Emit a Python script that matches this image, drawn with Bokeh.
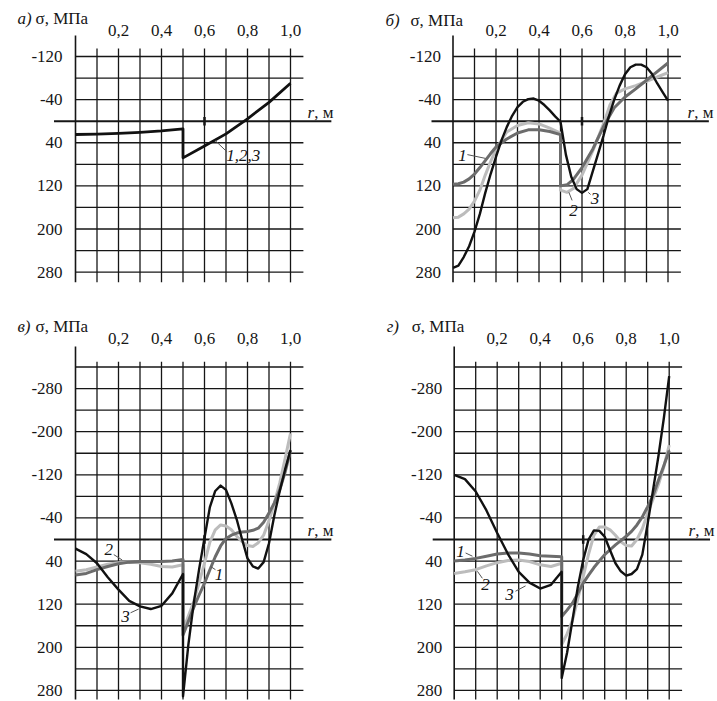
from bokeh.plotting import figure
from bokeh.models import Range1d
from bokeh.layouts import gridplot
from bokeh.embed import file_html
from bokeh.resources import INLINE
from bokeh.core.properties import value

# ---------------- data ----------------
grid_r = [0.1, 0.2, 0.3, 0.4, 0.5, 0.6, 0.7, 0.8, 0.9, 1.0]
r_ticks = [0.2, 0.4, 0.6, 0.8, 1.0]
r_tick_labels = ["0,2", "0,4", "0,6", "0,8", "1,0"]

top_y_ticks = [-120, -40, 40, 120, 200, 280]
top_grid_s = [-120, -80, -40, 40, 80, 120, 160, 200, 240, 280]
bot_y_ticks = [-280, -200, -120, -40, 40, 120, 200, 280]
bot_grid_s = [-320, -280, -240, -200, -160, -120, -80, -40, 40, 80, 120, 160, 200, 240, 280]

# panel а : curves 1,2,3 coincide
a_r = [0, 0.1, 0.2, 0.3, 0.4, 0.5, 0.5, 0.6, 0.7, 0.8, 0.9, 1.0]
a_s = [24.7, 24.0, 22.6, 20.6, 18.0, 14.2, 68, 46, 23.5, -4.5, -35, -70.5]

# panel б
b_r3 = [0, .025, .05, .075, .1, .125, .15, .175, .2, .225, .25, .275, .3, .325, .35, .375, .4,
        .425, .45, .475, .5, .525, .55, .575, .6, .625, .65, .675, .7, .725, .75, .775, .8,
        .825, .85, .875, .9, .925, .95, .975, 1.0]
b_s3 = [272, 268, 252, 232, 205, 172, 133, 98, 66, 36, 11, -10, -26, -36, -41, -42, -38,
        -30, -20, -9, 1, 62, 103, 126, 133, 126, 93, 60, 27, -9, -40, -66, -87,
        -100, -105, -105, -100, -88, -70, -54, -38]
b_r1 = [0, .025, .05, .075, .1, .125, .15, .175, .2, .25, .3, .35, .4, .45, .5,
        .5, .53, .56, .6, .65, .7, .75, .8, .85, .9, .95, 1.0]
b_s1 = [117, 116, 113, 107, 98, 86, 73, 60, 48, 33, 22, 16, 16, 19, 25,
        120, 118, 108, 86, 52, 10, -25, -45, -60, -76, -92, -108]
b_r2 = [0, .025, .05, .075, .1, .125, .15, .175, .2, .25, .3, .35, .4, .45, .5,
        .5, .53, .56, .6, .65, .7, .73, .76, .8, .85, .9, .95, 1.0]
b_s2 = [179, 178, 172, 163, 148, 128, 100, 75, 52, 20, 8, 3, 5, 13, 22,
        128, 132, 125, 100, 55, 5, -30, -52, -60, -66, -74, -82, -90]

# panels в and г share the same radii
cd_r = [0, .05, .1, .15, .2, .25, .3, .35, .4, .45, .5,
        .5, .525, .55, .575, .6, .625, .65, .675, .7, .725, .75, .775, .8, .825, .85,
        .875, .9, .925, .95, .975, 1.0]
# panel в
c_s1 = [66, 63, 56, 50, 45, 42, 41, 41, 41, 40, 37,
        177, 152, 126, 103, 81, 56, 32, 12, -2, -8, -12, -14, -15, -17, -21,
        -32, -49, -68, -92, -125, -165]
c_s2 = [59, 56, 51, 46, 43, 42, 43, 46, 50, 51, 47,
        168, 142, 115, 80, 44, 5, -18, -27, -25, -18, -6, 4, 11, 13, 6,
        -8, -35, -68, -105, -150, -197]
c_s3 = [17, 27, 44, 70, 93, 114, 124, 129, 123, 100, 64,
        291, 195, 118, 55, -3, -60, -90, -100, -92, -67, -37, 0, 35, 50, 54,
        42, 7, -45, -90, -130, -166]
# panel г
d_s1 = [40, 38, 35, 31, 27, 25, 25, 27, 30, 31, 32,
        143, 131, 118, 100, 81, 66, 52, 40, 28, 19, 10, 2, -6, -15, -27,
        -42, -61, -82, -110, -137, -165]
d_s2 = [63, 60, 56, 49, 43, 39, 38, 41, 47, 50, 44,
        195, 175, 150, 110, 69, 27, -8, -23, -23, -18, -8, 4, 11, 12, 0,
        -20, -49, -75, -102, -135, -175]
d_s3 = [-120, -112, -89, -54, -12, 27, 60, 80, 91, 84, 60,
        257, 210, 150, 88, 38, 0, -17, -16, -5, 20, 44, 59, 67, 64, 55,
        28, -30, -92, -155, -225, -303]

# ---------------- style ----------------
SERIF = value("'Liberation Serif', 'Times New Roman', serif")
INK = "#161616"
C1, C2, C3 = "#6c6c6c", "#bcbcbc", "#111111"
SX = 215.0   # px per metre
SY = 0.539   # px per MPa
FS = "17px"


def panel(width, height, x0_px, s0_px, grid_s, y_ticks, v_top, axis_top, s_bot,
          letter, title_s, tick_s, ylab_r, rlab_r, curves, labels):
    p = figure(width=width, height=height,
               x_range=Range1d(-x0_px / SX, (width - x0_px) / SX),
               y_range=Range1d((height - s0_px) / SY, -s0_px / SY),
               output_backend="svg", toolbar_location=None,
               x_axis_location=None, y_axis_location=None, min_border=0)
    p.grid.visible = False
    p.outline_line_color = None
    p.background_fill_color = "white"
    p.border_fill_color = "white"

    n = len(grid_s)
    p.segment(x0=[0] * n, y0=grid_s, x1=[1.06] * n, y1=grid_s,
              line_color=INK, line_width=1.3)
    m = len(grid_r)
    p.segment(x0=grid_r, y0=[v_top] * m, x1=grid_r, y1=[s_bot] * m,
              line_color=INK, line_width=1.3)
    p.segment(x0=[0], y0=[axis_top], x1=[0], y1=[s_bot], line_color=INK, line_width=1.6)
    p.segment(x0=[-0.1], y0=[0], x1=[1.19], y1=[0], line_color=INK, line_width=2)
    p.segment(x0=[0.6], y0=[-8], x1=[0.6], y1=[8], line_color=INK, line_width=2.5)

    for rr, ss, col, lw in curves:
        p.line(rr, ss, line_color=col, line_width=lw, line_join="round")

    # curve labels with leaders
    for txt, tx, ty, lx0, ly0, lx1, ly1 in labels:
        p.segment(x0=[lx0], y0=[ly0], x1=[lx1], y1=[ly1], line_color="#555555", line_width=1)
        p.text(x=[tx], y=[ty], text=[txt], text_font=SERIF, text_font_size=FS,
               text_font_style="italic", text_align="center", text_baseline="middle",
               text_color=INK)

    # titles
    p.text(x=[letter[1]], y=[title_s], text=[letter[0]], text_font=SERIF, text_font_size=FS,
           text_font_style="italic", text_align="left", text_baseline="middle", text_color=INK)
    p.text(x=[letter[2]], y=[title_s], text=["σ, МПа"], text_font=SERIF, text_font_size=FS,
           text_align="left", text_baseline="middle", text_color=INK)
    # top r tick labels
    p.text(x=r_ticks, y=[tick_s] * len(r_ticks), text=r_tick_labels, text_font=SERIF,
           text_font_size=FS, text_align="center", text_baseline="middle", text_color=INK)
    # y tick labels
    p.text(x=[ylab_r] * len(y_ticks), y=y_ticks, text=[str(v) for v in y_ticks],
           text_font=SERIF, text_font_size=FS, text_align="right", text_baseline="middle",
           text_color=INK)
    # r axis label
    p.text(x=[rlab_r], y=[-16], text=["r"], text_font=SERIF, text_font_size=FS,
           text_font_style="italic", text_align="left", text_baseline="middle", text_color=INK)
    p.text(x=[rlab_r + 0.031], y=[-16], text=[", м"], text_font=SERIF, text_font_size=FS,
           text_align="left", text_baseline="middle", text_color=INK)
    return p


pa = panel(357, 300, 75, 120.7, top_grid_s, top_y_ticks, -135, -159, 299,
           ("а)", -0.27, -0.186), -190, -168, -0.06, 1.079,
           [(a_r, a_s, C3, 2.8)],
           [("1,2,3", 0.78, 64, 0.65, 36, 0.705, 57)])

pb = panel(360, 300, 95.5, 120.7, top_grid_s, top_y_ticks, -135, -159, 299,
           ("б)", -0.314, -0.198), -187, -168, -0.056, 1.091,
           [(b_r2, b_s2, C2, 3), (b_r1, b_s1, C1, 3), (b_r3, b_s3, C3, 2.4)],
           [("1", 0.044, 64, 0.067, 62, 0.151, 69),
            ("2", 0.56, 166, 0.554, 147, 0.539, 132),
            ("3", 0.66, 144, 0.64, 136, 0.629, 132)])

pc = panel(357, 401, 75, 239, bot_grid_s, bot_y_ticks, -330, -358, 297,
           ("в)", -0.27, -0.186), -395, -373, -0.06, 1.079,
           [(cd_r, c_s2, C2, 3), (cd_r, c_s1, C1, 3), (cd_r, c_s3, C3, 2.4)],
           [("1", 0.667, 65, 0.651, 56, 0.628, 50),
            ("2", 0.155, 19, 0.178, 28, 0.217, 38),
            ("3", 0.233, 143, 0.256, 136, 0.294, 129)])

pd_ = panel(360, 401, 96.7, 239, bot_grid_s, bot_y_ticks, -330, -358, 297,
            ("г)", -0.314, -0.198), -395, -373, -0.056, 1.09,
            [(cd_r, d_s2, C2, 3), (cd_r, d_s1, C1, 3), (cd_r, d_s3, C3, 2.4)],
            [("1", 0.029, 22, 0.053, 25, 0.085, 31),
             ("2", 0.146, 84, 0.131, 72, 0.108, 59),
             ("3", 0.257, 102, 0.285, 96, 0.332, 86)])

layout = gridplot([[pa, pb], [pc, pd_]], toolbar_location=None)

open("out.html", "w").write(file_html(layout, INLINE))
